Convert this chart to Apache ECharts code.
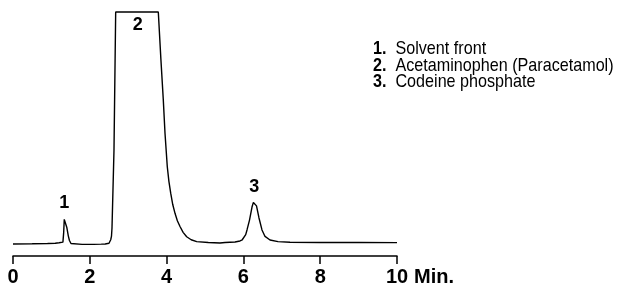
<!DOCTYPE html>
<html>
<head>
<meta charset="utf-8">
<script src="https://cdn.jsdelivr.net/npm/echarts@6/dist/echarts.min.js"></script>
<style>
html,body{margin:0;padding:0;background:#fff;}
#c{width:620px;height:291px;}
</style>
</head>
<body>
<div id="c"></div>
<script>
// Chromatogram trace: [time (min), detector response (arbitrary units, 100 = clipped top)]
var traceTime = [0, 0.5, 0.9, 1.1, 1.2, 1.3, 1.32, 1.335, 1.35, 1.365, 1.4, 1.44, 1.47, 1.51, 1.56, 1.8, 2.1, 2.3, 2.4, 2.45, 2.5, 2.525, 2.545, 2.565, 2.578, 2.63, 2.674, 3.2, 3.784, 3.85, 3.914, 3.958, 4.018, 4.06, 4.107, 4.16, 4.219, 4.28, 4.349, 4.43, 4.523, 4.64, 4.784, 5.086, 5.39, 5.521, 5.781, 5.911, 5.97, 6.016, 6.06, 6.094, 6.159, 6.224, 6.26, 6.284, 6.31, 6.341, 6.406, 6.484, 6.563, 6.693, 6.901, 7.214, 8.0, 9.0, 10.0];
var traceValue = [0, 0.1, 0.2, 0.3, 0.5, 0.8, 5, 10.6, 9.8, 10.0, 7.2, 3.5, 1.5, 0.2, -0.2, -0.2, -0.2, -0.1, 0, 0.1, 0.3, 0.9, 1.8, 3.4, 6.9, 40.5, 100, 100, 100, 80, 62.1, 47.8, 33.3, 27, 21.9, 17, 13.2, 10, 7.5, 5, 3.1, 1.8, 1.0, 0.6, 0.4, 0.65, 0.86, 1.29, 1.8, 2.59, 4, 6.03, 10.3, 15.9, 17.9, 18.5, 18.0, 16.4, 11.2, 6.03, 3.23, 1.72, 0.99, 0.73, 0.65, 0.6, 0.56];

// Peak number labels
var peakIds = ['1', '2', '3'];
var peakLabelTime = [1.336, 3.247, 6.284];
var peakLabelValue = [17.5, 94.4, 24.7];

// Peak identification list
var peakNames = ['Solvent front', 'Acetaminophen (Paracetamol)', 'Codeine phosphate'];

// X axis
var xMin = 0, xMax = 10, xInterval = 2;
var xUnit = 'Min.';

var sans = "'Liberation Sans', Arial, sans-serif";

var chart = echarts.init(document.getElementById('c'), null, {renderer: 'canvas'});

var traceData = traceTime.map(function (t, i) { return [t, traceValue[i]]; });
var labelData = peakIds.map(function (id, i) { return [peakLabelTime[i], peakLabelValue[i], id]; });

var legendGraphics = peakNames.map(function (name, i) {
  return {
    type: 'text',
    x: 373,
    y: 39.5 + i * 16.5,
    scaleX: 0.85,
    style: {
      text: '{n|' + peakIds[i] + '.}  ' + name,
      rich: {
        n: {fontFamily: sans, fontWeight: 'bold', fontSize: 19, fill: '#000'}
      },
      fontFamily: sans,
      fontSize: 19,
      fill: '#000'
    }
  };
});

chart.setOption({
  animation: false,
  backgroundColor: '#fff',
  grid: {left: 13, right: 223, top: 12, bottom: 35, containLabel: false, outerBoundsMode: 'none'},
  xAxis: {
    type: 'value',
    min: xMin,
    max: xMax,
    interval: xInterval,
    name: xUnit,
    nameLocation: 'end',
    nameGap: 6,
    nameTextStyle: {
      fontFamily: sans, fontWeight: 'bold', fontSize: 20, color: '#000',
      verticalAlign: 'top', padding: [11, 0, 0, 0]
    },
    axisLine: {show: true, onZero: false, lineStyle: {color: '#000', width: 1.5}},
    axisTick: {show: true, inside: false, length: 8, lineStyle: {color: '#000', width: 1.5}},
    axisLabel: {
      margin: 11,
      fontFamily: sans, fontWeight: 'bold', fontSize: 20, color: '#000',
      showMinLabel: true, showMaxLabel: true
    },
    splitLine: {show: false}
  },
  yAxis: {
    type: 'value',
    min: -5.2,
    max: 100,
    show: false,
    splitLine: {show: false}
  },
  series: [
    {
      type: 'line',
      data: traceData,
      showSymbol: false,
      symbol: 'none',
      smooth: false,
      clip: false,
      lineStyle: {color: '#000', width: 1.4},
      silent: true
    },
    {
      type: 'scatter',
      data: labelData,
      symbolSize: 1,
      itemStyle: {color: 'transparent'},
      label: {
        show: true,
        position: 'inside',
        formatter: function (p) { return p.data[2]; },
        fontFamily: sans,
        fontWeight: 'bold',
        fontSize: 18,
        color: '#000',
        opacity: 1
      },
      silent: true
    }
  ],
  graphic: legendGraphics
});
</script>
</body>
</html>
